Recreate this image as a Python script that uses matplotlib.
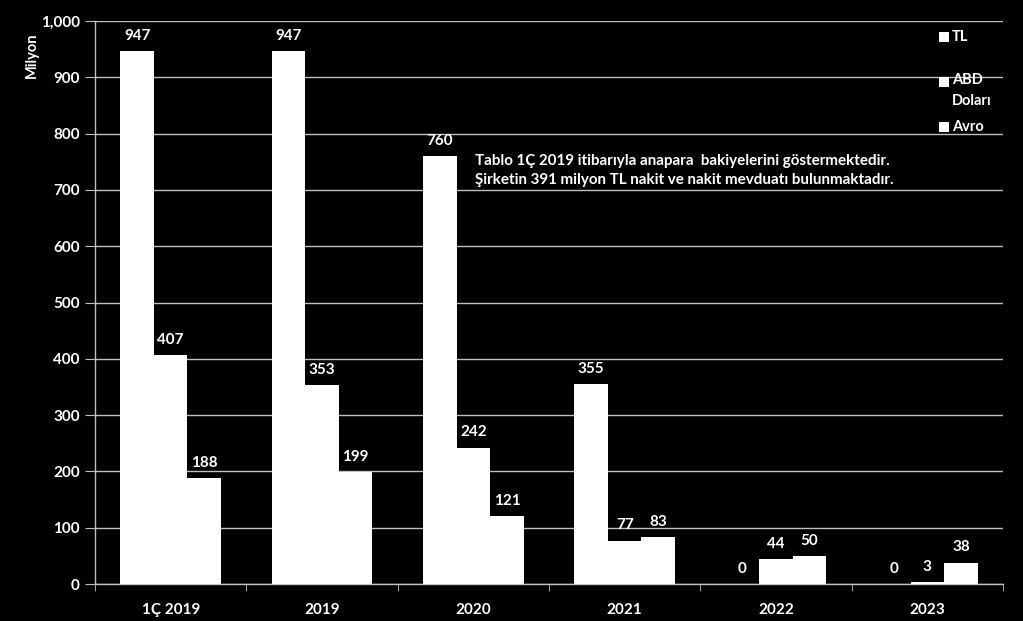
import numpy as np
import matplotlib.pyplot as plt
from matplotlib.ticker import FuncFormatter

# anapara bakiyeleri (milyon)
years = ["1Ç 2019", "2019", "2020", "2021", "2022", "2023"]
tl = [947, 947, 760, 355, 0, 0]
usd = [407, 353, 242, 77, 44, 3]
eur = [188, 199, 121, 83, 50, 38]
series_names = ["TL", "ABD\nDoları", "Avro"]

plt.rcParams["font.family"] = ["Lato", "DejaVu Sans"]
plt.rcParams["font.weight"] = "bold"

fig = plt.figure(figsize=(10.23, 6.21), dpi=100, facecolor="black")
ax = fig.add_axes([95 / 1023, 37 / 621, 908 / 1023, 563 / 621], facecolor="black")

x = np.arange(len(years))
w = 0.222
grid_c = "#bfbfbf"

for i, vals in enumerate([tl, usd, eur]):
    ax.bar(x + (i - 1) * w, vals, width=w, color="white", linewidth=0, zorder=3)
    for xi, v in zip(x + (i - 1) * w, vals):
        ax.annotate(f"{v}", (xi, v), xytext=(0, 6), textcoords="offset points",
                    ha="center", va="bottom", color="white", fontsize=11,
                    fontweight="bold")

ax.set_xlim(-0.5, len(years) - 0.5)
ax.set_ylim(0, 1000)
ax.set_yticks(np.arange(0, 1001, 100))
ax.yaxis.set_major_formatter(FuncFormatter(lambda v, p: f"{int(v):,}"))
ax.set_xticks(x)
ax.set_xticklabels(years)
ax.set_xticks(np.arange(-0.5, len(years)), minor=True)
ax.tick_params(axis="x", which="major", length=0, pad=14, colors="white", labelsize=11)
ax.tick_params(axis="x", which="minor", length=5, color=grid_c, direction="out")
ax.tick_params(axis="y", length=7, color=grid_c, colors="white", labelsize=11, pad=4)
for lbl in ax.get_xticklabels() + ax.get_yticklabels():
    lbl.set_fontweight("bold")

ax.grid(axis="y", color=grid_c, linewidth=1, zorder=0)
for s in ["top", "right"]:
    ax.spines[s].set_visible(False)
for s in ["left", "bottom"]:
    ax.spines[s].set_color(grid_c)
    ax.spines[s].set_linewidth(1)

ax.set_ylabel("Milyon", color="white", fontsize=10.5, fontweight="bold")
ax.yaxis.set_label_coords(-0.062, 0.94)

ax.text(0.419, 0.763, "Tablo 1Ç 2019 itibarıyla anapara  bakiyelerini göstermektedir.\n"
        "Şirketin 391 milyon TL nakit ve nakit mevduatı bulunmaktadır.",
        transform=ax.transAxes, color="white", fontsize=10.9, fontweight="bold",
        ha="left", va="top", linespacing=1.45, zorder=5)

# legend: small white squares with labels at the top right
leg_y = [0.972, 0.891, 0.811]
for name, ly in zip(series_names, leg_y):
    ax.scatter([0.935], [ly], marker="s", s=42, color="white", linewidths=0,
               transform=ax.transAxes, clip_on=False, zorder=5)
    multi = "\n" in name
    ax.text(0.944, ly + (0.017 if multi else 0), name, transform=ax.transAxes,
            color="white", fontsize=10.5, fontweight="bold", ha="left",
            va="top" if multi else "center", linespacing=1.7, zorder=5)

fig.savefig("out.png", dpi=100, facecolor="black")
